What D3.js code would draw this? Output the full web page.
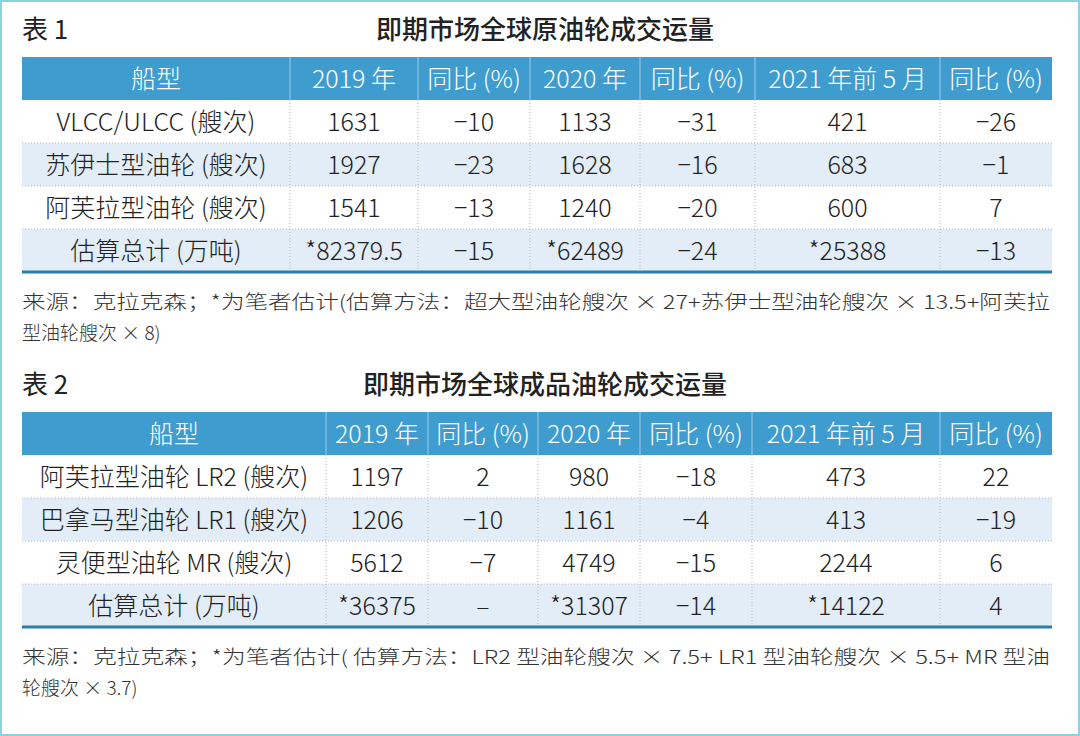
<!DOCTYPE html><html><head><meta charset="utf-8"><script src="https://cdn.jsdelivr.net/npm/d3@7"></script>
<style>body{margin:0;background:#fff}svg{display:block}</style></head><body><svg id="c" width="1080" height="736"></svg>
<script>
const headers1=["船型","2019 年","同比 (%)","2020 年","同比 (%)","2021 年前 5 月","同比 (%)"];
const rows1=[
["VLCC/ULCC (艘次)","1631","−10","1133","−31","421","−26"],
["苏伊士型油轮 (艘次)","1927","−23","1628","−16","683","−1"],
["阿芙拉型油轮 (艘次)","1541","−13","1240","−20","600","7"],
["估算总计 (万吨)","*82379.5","−15","*62489","−24","*25388","−13"]];
const headers2=headers1;
const rows2=[
["阿芙拉型油轮 LR2 (艘次)","1197","2","980","−18","473","22"],
["巴拿马型油轮 LR1 (艘次)","1206","−10","1161","−4","413","−19"],
["灵便型油轮 MR (艘次)","5612","−7","4749","−15","2244","6"],
["估算总计 (万吨)","*36375","–","*31307","−14","*14122","4"]];
const titles=["即期市场全球原油轮成交运量","即期市场全球成品油轮成交运量"];
const labels=["表 1","表 2"];
const notes1=["来源：克拉克森；*为笔者估计(估算方法：超大型油轮艘次 × 27+苏伊士型油轮艘次 × 13.5+阿芙拉","型油轮艘次 × 8)"];
const notes2=["来源：克拉克森；*为笔者估计( 估算方法：LR2 型油轮艘次 × 7.5+ LR1 型油轮艘次 × 5.5+ MR 型油","轮艘次 × 3.7)"];

const svg=d3.select("#c");
svg.append("rect").attr("x",0).attr("y",0).attr("width",1080).attr("height",736).attr("fill","none").attr("stroke","#8fd0e0").attr("stroke-width",4);
const F="'Noto Sans CJK SC','Noto Sans',sans-serif";
function table(cfg){
  const {top,cols,headers,rows,title,label,notes}=cfg;
  svg.append("text").attr("x",22).attr("y",top-18).attr("font-family",F).attr("font-size",26).attr("fill","#222").text(label);
  svg.append("text").attr("x",545).attr("y",top-18).attr("text-anchor","middle").attr("font-family",F).attr("font-size",26).attr("font-weight",500).attr("fill","#222").text(title);
  const y=d3.scaleBand().domain(d3.range(rows.length+1)).range([top,top+43*(rows.length+1)]);
  const g=svg.append("g");
  g.append("rect").attr("x",cols[0]).attr("y",y(0)).attr("width",cols[7]-cols[0]).attr("height",y.bandwidth()).attr("fill","#3f9ccf");
  rows.forEach((r,i)=>{ if(i%2==1) g.append("rect").attr("x",cols[0]).attr("y",y(i+1)).attr("width",cols[7]-cols[0]).attr("height",y.bandwidth()).attr("fill","#e2edf8");});
  for(let c=1;c<7;c++){
    g.append("line").attr("x1",cols[c]).attr("x2",cols[c]).attr("y1",y(0)).attr("y2",y(0)+y.bandwidth()).attr("stroke","#9fcbe6").attr("stroke-width",1);
    g.append("line").attr("x1",cols[c]).attr("x2",cols[c]).attr("y1",y(1)).attr("y2",y(rows.length)+y.bandwidth()).attr("stroke","#bbb").attr("stroke-dasharray","1,2");
  }
  for(let i=2;i<=rows.length;i++) g.append("line").attr("x1",cols[0]).attr("x2",cols[7]).attr("y1",y(i)).attr("y2",y(i)).attr("stroke","#bbb").attr("stroke-dasharray","1,2");
  g.append("line").attr("x1",cols[0]).attr("x2",cols[7]).attr("y1",y(rows.length)+y.bandwidth()).attr("y2",y(rows.length)+y.bandwidth()).attr("stroke","#2b7fa6").attr("stroke-width",3);
  headers.forEach((h,c)=>g.append("text").attr("x",(cols[c]+cols[c+1])/2).attr("y",y(0)+y.bandwidth()/2+9).attr("text-anchor","middle").attr("font-family",F).attr("font-size",25).attr("font-weight",300).attr("fill","#fff").text(h));
  rows.forEach((r,i)=>r.forEach((v,c)=>g.append("text").attr("x",(cols[c]+cols[c+1])/2).attr("y",y(i+1)+y.bandwidth()/2+9).attr("text-anchor","middle").attr("font-family",F).attr("font-size",25).attr("font-weight",300).attr("fill","#222").text(v)));
  const ny=y(rows.length)+y.bandwidth();
  notes.forEach((n,i)=>{const t=svg.append("text").attr("x",22).attr("y",ny+37+i*31).attr("font-family","'Noto Sans CJK SC','DejaVu Serif',serif").attr("font-size",19).attr("font-weight",300).attr("fill","#333").text(n);
    if(i==0) t.attr("textLength",1028).attr("lengthAdjust","spacingAndGlyphs");});
}
table({top:57,cols:[22,290,418,530,640,755,940,1052],headers:headers1,rows:rows1,title:titles[0],label:labels[0],notes:notes1});
table({top:412,cols:[22,326,428,538,640,752,940,1052],headers:headers2,rows:rows2,title:titles[1],label:labels[1],notes:notes2});
</script></body></html>
